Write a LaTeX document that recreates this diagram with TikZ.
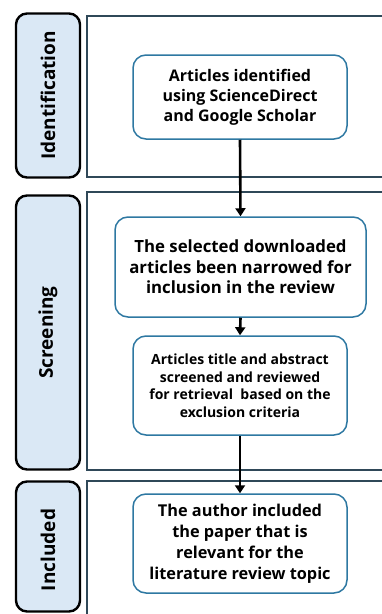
\documentclass[tikz,border=0pt]{standalone}
\usepackage{fontspec}
\setmainfont{Open Sans}
\usetikzlibrary{arrows.meta}
\definecolor{sidefill}{HTML}{DAE8F5}
\definecolor{panelline}{HTML}{2F4858}
\definecolor{boxline}{HTML}{2E78A2}
\tikzset{
  sidebox/.style={draw=black, line width=2.4pt, fill=sidefill, rounded corners=11pt, minimum width=64pt, inner sep=0pt},
  sidetext/.style={rotate=90, font=\fontsize{19}{22}\selectfont\bfseries},
  panel/.style={draw=panelline, line width=1.5pt},
  flowbox/.style={draw=boxline, line width=1.5pt, rounded corners=13pt, fill=white, align=center, inner sep=0pt, font=\bfseries},
  arr/.style={draw=black, line width=2.6pt, -{Triangle[width=10pt,length=8pt]}}
}
\begin{document}
\begin{tikzpicture}[x=1pt,y=-1pt]
\useasboundingbox (0,0) rectangle (382,614);
\clip (0,0) rectangle (382,614);
% panels
\draw[panel] (87,16) rectangle (400,177);
\draw[panel] (87,192) rectangle (400,470);
\draw[panel] (87,481) rectangle (400,630);
% side labels
\node[sidebox, minimum height=164pt] (sid) at (48,95.5) {};
\node[sidetext] (tid) at (sid.center) {Identification};
\node[sidebox, minimum height=274pt] (ssc) at (48,332.5) {};
\node[sidetext] (tsc) at (ssc.center) {Screening};
\node[sidebox, minimum height=130pt] (sin) at (48,546.5) {};
\node[sidetext] (tin) at (48,550) {Included};
% flow boxes
\node[flowbox, minimum width=214pt, minimum height=84pt, font=\fontsize{16}{20}\selectfont\bfseries] (n1) at (240,97)
  {Articles identified\\using ScienceDirect\\and Google Scholar};
\node[flowbox, minimum width=251pt, minimum height=100pt, font=\fontsize{16.8}{20.5}\selectfont\bfseries] (n2) at (240.5,267)
  {The selected downloaded\\articles been narrowed for\\inclusion in the review};
\node[flowbox, minimum width=214pt, minimum height=99pt, font=\fontsize{14}{17.5}\selectfont\bfseries] (n3) at (240,385.5)
  {Articles title and abstract\\screened and reviewed\\for retrieval\ \ based on the\\exclusion criteria};
\node[flowbox, minimum width=214pt, minimum height=99pt, font=\fontsize{16.3}{21}\selectfont\bfseries] (n4) at (240,543.5)
  {The author included\\the paper that is\\relevant for the\\literature review topic};
% arrows
\draw[arr] (n1.south) -- (n2.north);
\draw[arr] (n2.south) -- (n3.north);
\draw[arr] (n3.south) -- (n4.north);
\end{tikzpicture}
\end{document}
